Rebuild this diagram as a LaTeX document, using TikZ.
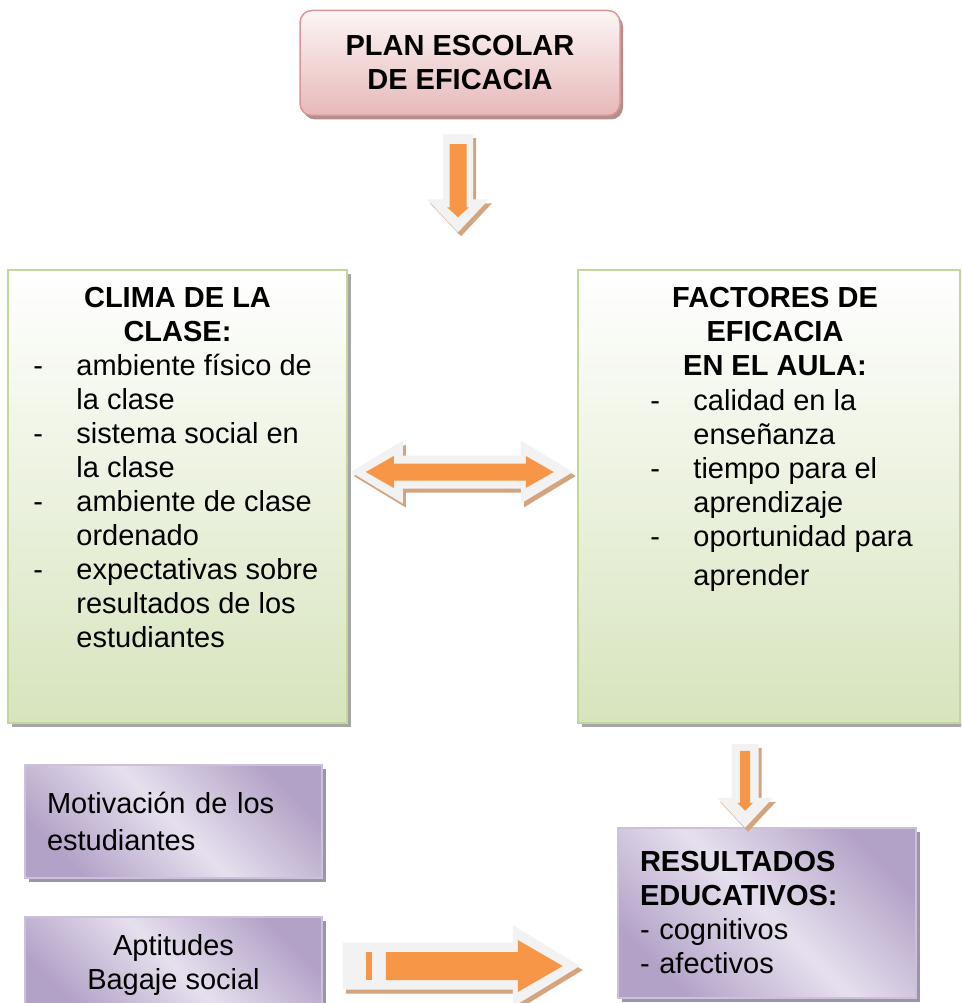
\documentclass[tikz,border=0pt]{standalone}
\usepackage{fontspec}
\setmainfont{Liberation Sans}
\usetikzlibrary{positioning,calc,shadows}

\definecolor{pinktop}{HTML}{FCF5F5}
\definecolor{pinkbot}{HTML}{E6B9B8}
\definecolor{pinkline}{HTML}{D99694}
\definecolor{greenbot}{HTML}{D7E4BD}
\definecolor{greenline}{HTML}{C3D69B}
\definecolor{purpdark}{HTML}{B3A2C7}
\definecolor{purplight}{HTML}{E6E0EE}
\definecolor{purpline}{HTML}{CCC1DA}
\definecolor{arroworange}{HTML}{F79646}
\definecolor{arrowlight}{HTML}{F2F2F2}
\definecolor{arrowtan}{HTML}{D4A47E}

% fat arrow: length, shaft half width, head half width, head length, start
\newcommand\fatpath[5]{({#5},{-#2}) -- ({#1-#4},{-#2}) -- ({#1-#4},{-#3}) -- ({#1},0)
  -- ({#1-#4},{#3}) -- ({#1-#4},{#2}) -- ({#5},{#2}) -- cycle}
\newcommand\dblpath[5]{({#5},0) -- ({#5+#4},{-#3}) -- ({#5+#4},{-#2}) -- ({#1-#4},{-#2})
  -- ({#1-#4},{-#3}) -- ({#1},0) -- ({#1-#4},{#3}) -- ({#1-#4},{#2}) -- ({#5+#4},{#2})
  -- ({#5+#4},{#3}) -- cycle}
\newcommand\itm{\makebox[43pt][l]{-}}
\newcommand\ind{\hspace*{43pt}}

\begin{document}
\begin{tikzpicture} [
                x=1pt, y=-1pt,
                txt/.style={font=\fontsize{29}{34}\selectfont, inner sep=0pt},
                bold/.style={font=\fontsize{29}{34}\selectfont\bfseries, inner sep=0pt},
                pinkbox/.style={draw=pinkline, line width=1.5pt, rounded corners=12pt,
                    top color=pinktop, bottom color=pinkbot,
                    drop shadow={shadow xshift=3pt, shadow yshift=-4pt, fill=pinkline!60!gray, opacity=1}},
                greenbox/.style={draw=greenline, line width=1.5pt, top color=white, bottom color=greenbot,
                    drop shadow={shadow xshift=4pt, shadow yshift=-4pt, fill=black!35, opacity=1}},
                purplebox/.style={draw=purpline, line width=1.5pt, top color=purpdark, bottom color=purpdark,
                    middle color=purplight, shading angle=-45,
                    drop shadow={shadow xshift=4pt, shadow yshift=-4pt, fill=purpdark!60!gray, opacity=1}},
                arrowshadow/.style={fill=arrowtan},
                arrowback/.style={fill=arrowlight},
                arrowcore/.style={fill=arroworange},
                shadowoff/.style={xshift=3pt, yshift=-4pt},
            ]
            \useasboundingbox (0,0) rectangle (961,1003);
            \clip (0,0) rectangle (961,1003);

            % boxes
            \node[pinkbox, bold, minimum width=320pt, minimum height=105pt, align=center] (plan) at (460,63)
                {PLAN ESCOLAR\\DE EFICACIA};
            \node[greenbox, minimum width=339pt, minimum height=453pt] (clima) at (177.5,496.5) {};
            \node[greenbox, minimum width=382pt, minimum height=453pt] (factores) at (769,496.5) {};
            \node[purplebox, txt, minimum width=297pt, minimum height=113pt, text width=253pt, align=left]
                (motiv) at (173.5,821.5) {Motivación de los\\[3pt]estudiantes};
            \node[purplebox, txt, minimum width=297pt, minimum height=96pt, align=center]
                (apt) at (173.5,965) {Aptitudes\\Bagaje social};
            \node[purplebox, txt, minimum width=298pt, minimum height=170pt, text width=254pt, align=left]
                (res) at (767,913) {\textbf{RESULTADOS}\\\textbf{EDUCATIVOS:}\\- cognitivos\\- afectivos};

            % texts in the green boxes
            \node[bold, align=center, below=18pt of clima.north] (climatit) {CLIMA DE LA\\CLASE:};
            \node[txt, align=left, below right=85pt and 26pt of clima.north west] (climalist)
                {\itm ambiente físico de\\\ind la clase\\\itm sistema social en\\\ind la clase\\
                 \itm ambiente de clase\\\ind ordenado\\\itm expectativas sobre\\\ind resultados de los\\
                 \ind estudiantes};
            \node[bold, align=center, below=18pt of factores.north, xshift=6pt] (factit)
                {FACTORES DE\\EFICACIA\\EN EL AULA:};
            \node[txt, align=left, below right=120pt and 73pt of factores.north west] (faclist)
                {\itm calidad en la\\\ind enseñanza\\\itm tiempo para el\\\ind aprendizaje\\
                 \itm oportunidad para\\[5pt]\ind aprender};

            % block arrows
            \coordinate (a1) at ($(plan.south)+(-2,18)$);
            \coordinate (a2) at ($(factores.south)+(-24,20)$);
            \coordinate (a3) at ($(apt.east)+(20,1)$);
            \coordinate (a4) at ($(clima.east)+(3,-24.5)$);
            \foreach \at/\rot/\L/\s/\h/\hl/\ob/\ot/\os/\oh/\ohl in {
                a1/-90/98/15/31/33/10/15/8.5/11/10,
                a2/-90/84/13.5/28/30/7/17/5/8/8,
                a3/0/237/23.5/41/67/43/17/14/26/45}
            {
                \fill[arrowshadow, shift={(\at)}, shadowoff, rotate=\rot] \fatpath{\L}{\s}{\h}{\hl}{0};
                \fill[arrowback, shift={(\at)}, rotate=\rot] \fatpath{\L}{\s}{\h}{\hl}{0};
                \fill[arrowcore, shift={(\at)}, rotate=\rot] \fatpath{\L-\ot}{\os}{\oh}{\ohl}{\ob};
            }
            \fill[arrowcore, shift={(a3)}] (23,-14) rectangle (29,14);
            \fill[arrowshadow, shift={(a4)}, shadowoff] \dblpath{222}{16.5}{31.5}{52}{0};
            \fill[arrowback, shift={(a4)}] \dblpath{222}{16.5}{31.5}{52}{0};
            \fill[arrowcore, shift={(a4)}] \dblpath{203}{8.5}{16}{28}{15};
\end{tikzpicture}
\end{document}
